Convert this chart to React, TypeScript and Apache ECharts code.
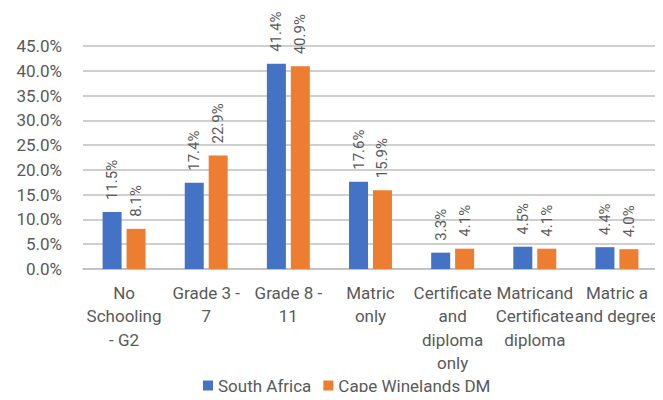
import React, { useEffect, useRef } from "react";
import * as echarts from "echarts";

const categories = [
  "No\nSchooling\n- G2",
  "Grade 3 -\n7",
  "Grade 8 -\n11",
  "Matric\nonly",
  "Certificate\nand\ndiploma\nonly",
  "Matricand\nCertificate\ndiploma",
  "Matric a\nand degree",
];
const southAfrica = [11.5, 17.4, 41.4, 17.6, 3.3, 4.5, 4.4];
const capeWinelands = [8.1, 22.9, 40.9, 15.9, 4.1, 4.1, 4.0];
const seriesNames = ["South Africa", "Cape Winelands DM"];

const FONT = "'Liberation Sans Narrow', 'Arial Narrow', Roboto, sans-serif";
const TEXT = "#595959";

export default function App() {
  const ref = useRef<HTMLDivElement>(null);
  useEffect(() => {
    if (!ref.current) return;
    const chart = echarts.init(ref.current, undefined, { renderer: "svg" });
    const label = {
      show: true,
      position: "top" as const,
      rotate: 90,
      align: "left" as const,
      verticalAlign: "middle" as const,
      distance: 12,
      color: TEXT,
      fontFamily: FONT,
      fontSize: 15,
      formatter: (p: any) => p.value.toFixed(1) + "%",
    };
    chart.setOption({
      animation: false,
      textStyle: { fontFamily: FONT },
      grid: { left: 83, right: 5, top: 46, bottom: 131, containLabel: false },
      legend: {
        bottom: 1,
        left: 198,
        itemWidth: 10,
        itemHeight: 10,
        itemGap: 12,
        icon: "rect",
        textStyle: { color: TEXT, fontFamily: FONT, fontSize: 17 },
        data: seriesNames,
      },
      xAxis: {
        type: "category",
        data: categories,
        axisLine: { lineStyle: { color: "#bfbfbf", width: 1.5 } },
        axisTick: { show: false },
        axisLabel: {
          color: TEXT,
          fontFamily: FONT,
          fontSize: 17,
          lineHeight: 23.5,
          margin: 12,
          interval: 0,
        },
      },
      yAxis: {
        type: "value",
        min: 0,
        max: 45,
        interval: 5,
        axisLine: { show: false },
        axisTick: { show: false },
        splitLine: { lineStyle: { color: "#bfbfbf", width: 1.5 } },
        axisLabel: {
          color: TEXT,
          fontFamily: FONT,
          fontSize: 17,
          margin: 21,
          formatter: (v: number) => v.toFixed(1) + "%",
        },
      },
      series: [
        {
          name: seriesNames[0],
          type: "bar",
          data: southAfrica,
          barWidth: 19,
          barGap: "26%",
          itemStyle: { color: "#4472C4" },
          label,
        },
        {
          name: seriesNames[1],
          type: "bar",
          data: capeWinelands,
          barWidth: 19,
          itemStyle: { color: "#ED7D31" },
          label,
        },
      ],
    });
    return () => chart.dispose();
  }, []);
  return <div ref={ref} style={{ width: 663, height: 400, margin: -8 }} />;
}
